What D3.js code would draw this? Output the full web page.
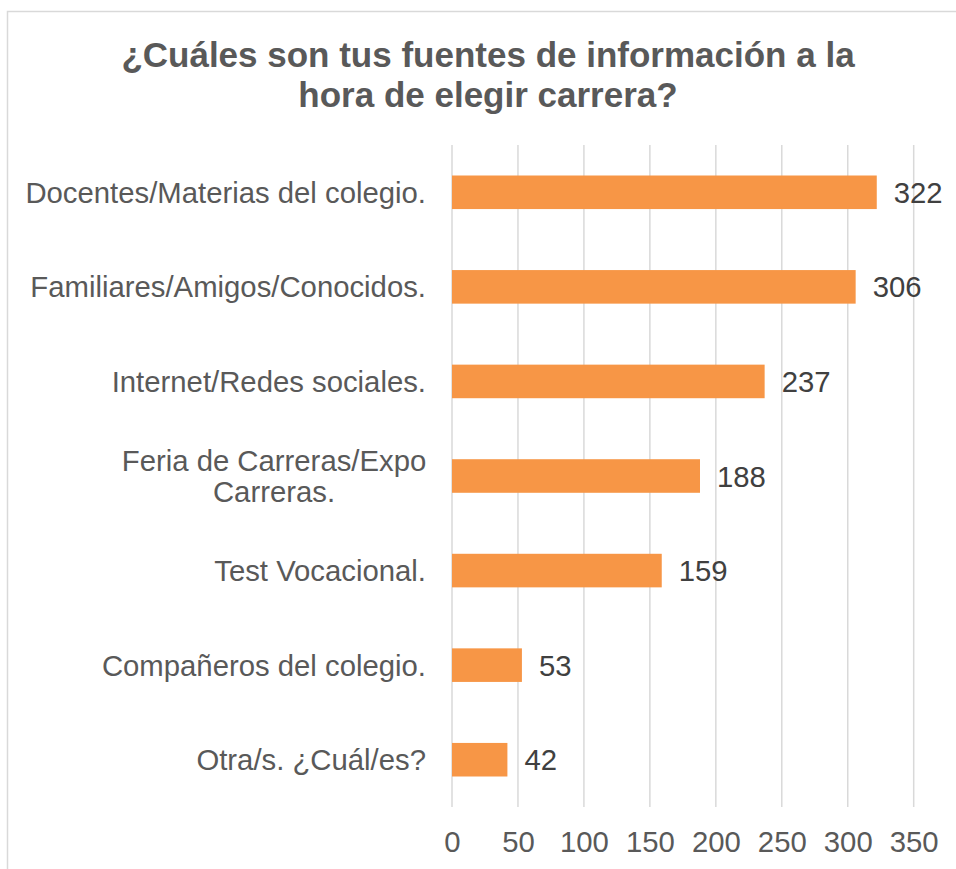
<!DOCTYPE html>
<html>
<head>
<meta charset="utf-8">
<script src="https://cdn.jsdelivr.net/npm/d3@7"></script>
<style>
  html, body { margin: 0; padding: 0; background: #fff; }
  svg { display: block; font-family: "Liberation Sans", Arial, sans-serif; }
</style>
</head>
<body>
<svg id="chart" width="956" height="869"></svg>
<script>
const categories = [
    "Docentes/Materias del colegio.",
    "Familiares/Amigos/Conocidos.",
    "Internet/Redes sociales.",
    "Feria de Carreras/Expo Carreras.",
    "Test Vocacional.",
    "Compañeros del colegio.",
    "Otra/s. ¿Cuál/es?"
];
const values = [322, 306, 237, 188, 159, 53, 42];
const tickValues = [0, 50, 100, 150, 200, 250, 300, 350];
const titleLines = ["¿Cuáles son tus fuentes de información a la", "hora de elegir carrera?"];
// labels that wrap onto two lines
const wrapped = {"Feria de Carreras/Expo Carreras.": ["Feria de Carreras/Expo", "Carreras."]};

const svg = d3.select("#chart");
const plotTop = 145, plotBottom = 807;

// chart area border (runs off the right and bottom)
svg.append("rect")
    .attr("x", 7.5)
    .attr("y", 11.5)
    .attr("width", 1000)
    .attr("height", 1000)
    .attr("fill", "none")
    .attr("stroke", "#d9d9d9")
    .attr("stroke-width", 1.5);

// title
svg.append("g")
    .selectAll("text")
    .data(titleLines)
    .join("text")
    .attr("x", 488)
    .attr("y", (d, i) => 67 + i * 40)
    .attr("text-anchor", "middle")
    .attr("font-size", 35)
    .attr("font-weight", "bold")
    .attr("fill", "#595959")
    .text(d => d);

const x = d3.scaleLinear()
    .domain([0, 350])
    .range([452, 913.7]);

const y = d3.scaleBand()
    .domain(categories)
    .range([plotTop, plotBottom])
    .paddingInner(0.645)
    .paddingOuter(0.3225);

// gridlines
svg.append("g")
    .selectAll("line")
    .data(tickValues)
    .join("line")
    .attr("x1", d => x(d))
    .attr("x2", d => x(d))
    .attr("y1", plotTop)
    .attr("y2", plotBottom)
    .attr("stroke", "#d9d9d9")
    .attr("stroke-width", 1.5);

// x axis labels
const xAxis = svg.append("g")
    .attr("transform", `translate(0,${plotBottom})`)
    .call(d3.axisBottom(x).tickValues(tickValues).tickSize(0).tickPadding(0));
xAxis.select(".domain").remove();
xAxis.selectAll("text")
    .attr("y", 45)
    .attr("dy", null)
    .attr("font-size", 29.3)
    .attr("font-family", "Liberation Sans, Arial, sans-serif")
    .attr("fill", "#595959");

// bars
svg.append("g")
    .selectAll("rect")
    .data(values)
    .join("rect")
    .attr("x", x(0))
    .attr("y", (d, i) => y(categories[i]))
    .attr("width", d => x(d) - x(0))
    .attr("height", y.bandwidth())
    .attr("fill", "#f79646");

// value labels
svg.append("g")
    .selectAll("text")
    .data(values)
    .join("text")
    .attr("x", d => x(d) + 17)
    .attr("y", (d, i) => y(categories[i]) + y.bandwidth() / 2 + 10.5)
    .attr("font-size", 29.3)
    .attr("fill", "#404040")
    .text(d => d);

// category labels
const catG = svg.append("g");
categories.forEach(c => {
    const cy = y(c) + y.bandwidth() / 2;
    if (wrapped[c]) {
        catG.append("text")
            .attr("text-anchor", "middle")
            .attr("font-size", 29.3)
            .attr("fill", "#595959")
            .selectAll("tspan")
            .data(wrapped[c])
            .join("tspan")
            .attr("x", 274)
            .attr("y", (d, i) => cy + 10.5 - 15.5 + i * 31)
            .text(d => d);
    } else {
        catG.append("text")
            .attr("x", 426)
            .attr("y", cy + 10.5)
            .attr("text-anchor", "end")
            .attr("font-size", 29.3)
            .attr("fill", "#595959")
            .text(c);
    }
});
</script>
</body>
</html>
